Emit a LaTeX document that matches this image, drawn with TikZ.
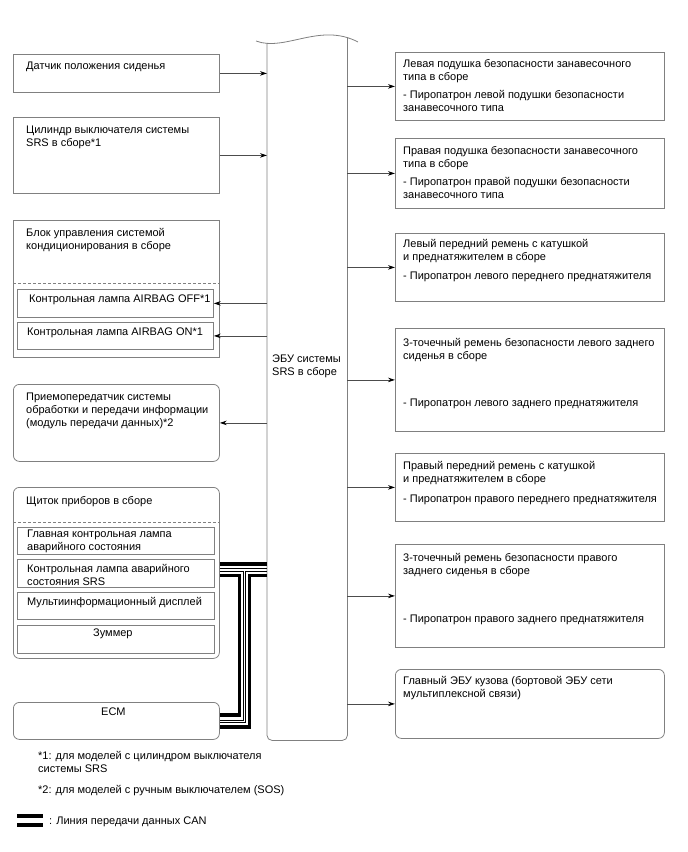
\documentclass[tikz,border=0pt]{standalone}
\usepackage{fontspec}
\setmainfont{Liberation Sans}
\usetikzlibrary{arrows.meta}
\definecolor{boxgray}{gray}{0.5}
\definecolor{wiregray}{gray}{0.3}

\begin{document}
\begin{tikzpicture}[x=1pt, y=-1pt,
  box/.style={draw=boxgray, line width=0.8pt, anchor=north west, inner sep=0pt},
  rbox/.style={box, rounded corners=6pt},
  txt/.style={anchor=base west, inner sep=0pt, align=left, font=\fontsize{11}{13}\selectfont},
  wire/.style={draw=wiregray, line width=0.8pt, -{Stealth[length=7pt, width=4.5pt, black]}},
  sep/.style={draw=boxgray, line width=0.8pt, dash pattern=on 3pt off 2pt},
  can/.style={line width=3.5pt},
  canthin/.style={line width=0.8pt}]
  \useasboundingbox (0,0) rectangle (688,852);

  % left column
  \node[box, minimum width=206pt, minimum height=38pt] (seat) at (13,54) {};
  \node[box, minimum width=206pt, minimum height=76pt] (cyl) at (13,117) {};
  \node[box, minimum width=206pt, minimum height=137pt] (climate) at (13,220) {};
  \node[box, minimum width=196pt, minimum height=28pt] (off) at (17,289) {};
  \node[box, minimum width=196pt, minimum height=27pt] (on) at (17,322) {};
  \node[rbox, minimum width=206pt, minimum height=77pt] (dcm) at (13,384) {};
  \node[rbox, minimum width=206pt, minimum height=171pt] (meter) at (13,487) {};
  \node[box, minimum width=197pt, minimum height=27pt] (mil) at (17,527) {};
  \node[box, minimum width=197pt, minimum height=28pt] (srs) at (17,559) {};
  \node[box, minimum width=197pt, minimum height=27pt] (mid) at (17,592) {};
  \node[box, minimum width=197pt, minimum height=28pt] (buzz) at (17,625) {};
  \node[rbox, minimum width=206pt, minimum height=37pt] (ecm) at (13,702) {};
  \draw[sep] (climate.west |- 0,283) -- (climate.east |- 0,283);
  \draw[sep] (meter.west |- 0,522) -- (meter.east |- 0,522);

  \node[txt] at ([shift={(13,15)}]seat.north west) {Датчик положения сиденья};
  \node[txt] at ([shift={(13,29)}]cyl.north west) {Цилиндр выключателя системы\\SRS в сборе*1};
  \node[txt] at ([shift={(13,29)}]climate.north west) {Блок управления системой\\кондиционирования в сборе};
  \node[txt] at ([shift={(12,13)}]off.north west) {Контрольная лампа AIRBAG OFF*1};
  \node[txt] at ([shift={(10,13)}]on.north west) {Контрольная лампа AIRBAG ON*1};
  \node[txt] at ([shift={(13,42)}]dcm.north west) {Приемопередатчик системы\\обработки и передачи информации\\(модуль передачи данных)*2};
  \node[txt] at ([shift={(13,17)}]meter.north west) {Щиток приборов в сборе};
  \node[txt] at ([shift={(10,23)}]mil.north west) {Главная контрольная лампа\\аварийного состояния};
  \node[txt] at ([shift={(10,26)}]srs.north west) {Контрольная лампа аварийного\\состояния SRS};
  \node[txt] at ([shift={(10,13)}]mid.north west) {Мультиинформационный дисплей};
  \node[txt, anchor=base] at ([shift={(-3,11)}]buzz.north) {Зуммер};
  \node[txt, anchor=base] at ([shift={(-3,13)}]ecm.north) {ECM};

  % ECU
  \node[inner sep=0pt, anchor=north west, minimum width=80pt, minimum height=696.7pt] (ecu) at (267,43.3) {};
  \coordinate (wl) at (256,41);
  \coordinate (wr) at (358,42);
  \draw[boxgray, line width=0.8pt] (wl) .. controls (285,52) and (320,22) .. (wr);
  \draw[boxgray, line width=0.8pt, rounded corners=5pt] (ecu.north west) -- (ecu.south west) -- (ecu.south east) -- ([yshift=6pt]ecu.north east);
  \node[txt] at (272,375) {ЭБУ системы\\SRS в сборе};

  % right column
  \node[box, minimum width=269pt, minimum height=68pt] (curtL) at (395,52) {};
  \node[box, minimum width=269pt, minimum height=70pt] (curtR) at (395,138) {};
  \node[box, minimum width=269pt, minimum height=68pt] (beltFL) at (395,233) {};
  \node[box, minimum width=269pt, minimum height=103pt] (beltRL) at (395,328) {};
  \node[box, minimum width=269pt, minimum height=68pt] (beltFR) at (395,453) {};
  \node[box, minimum width=269pt, minimum height=103pt] (beltRR) at (395,544) {};
  \node[rbox, minimum width=269pt, minimum height=69pt] (body) at (395,669) {};

  \node[txt] at ([shift={(8,59)}]curtL.north west) {Левая подушка безопасности занавесочного\\типа в сборе\\[5pt]- Пиропатрон левой подушки безопасности\\занавесочного типа};
  \node[txt] at ([shift={(8,60)}]curtR.north west) {Правая подушка безопасности занавесочного\\типа в сборе\\[5pt]- Пиропатрон правой подушки безопасности\\занавесочного типа};
  \node[txt] at ([shift={(8,46)}]beltFL.north west) {Левый передний ремень с катушкой\\и преднатяжителем в сборе\\[6pt]- Пиропатрон левого переднего преднатяжителя};
  \node[txt] at ([shift={(8,78)}]beltRL.north west) {3-точечный ремень безопасности левого заднего\\сиденья в сборе\\[34pt]- Пиропатрон левого заднего преднатяжителя};
  \node[txt] at ([shift={(8,49)}]beltFR.north west) {Правый передний ремень с катушкой\\и преднатяжителем в сборе\\[7pt]- Пиропатрон правого переднего преднатяжителя};
  \node[txt] at ([shift={(8,78)}]beltRR.north west) {3-точечный ремень безопасности правого\\заднего сиденья в сборе\\[35pt]- Пиропатрон правого заднего преднатяжителя};
  \node[txt] at ([shift={(8,28)}]body.north west) {Главный ЭБУ кузова (бортовой ЭБУ сети\\мультиплексной связи)};

  % connectors
  \draw[wire] (seat.east) -- (seat.east -| ecu.west);
  \draw[wire] (cyl.east) -- (cyl.east -| ecu.west);
  \draw[wire] (off.east -| ecu.west) -- (off.east);
  \draw[wire] (on.east -| ecu.west) -- (on.east);
  \draw[wire] (dcm.east -| ecu.west) -- (dcm.east);
  \draw[wire] (curtL.west -| ecu.east) -- (curtL.west);
  \draw[wire] (curtR.west -| ecu.east) -- (curtR.west);
  \draw[wire] (beltFL.west -| ecu.east) -- (beltFL.west);
  \draw[wire] (beltRL.west -| ecu.east) -- (beltRL.west);
  \draw[wire] (beltFR.west -| ecu.east) -- (beltFR.west);
  \draw[wire] (beltRR.west -| ecu.east) -- (beltRR.west);
  \draw[wire] (body.west -| ecu.east) -- (body.west);

  % CAN
  \draw[can] (meter.east |- 0,564) -- (ecu.west |- 0,564);
  \draw[canthin] (meter.east |- 0,568.5) -- (ecu.west |- 0,568.5);
  \draw[can] (meter.east |- 0,575.5) -| (239.5,715) -- (ecm.east |- 0,715);
  \draw[canthin] (meter.east |- 0,571) -| (243,720) -- (ecm.east |- 0,720);
  \draw[canthin] (ecu.west |- 0,571) -| (245,722.5) -- (ecm.east |- 0,722.5);
  \draw[can] (ecu.west |- 0,575.5) -| (249.5,727) -- (ecm.east |- 0,727);

  % notes
  \node[txt] at (38,772) {*1: для моделей с цилиндром выключателя\\системы SRS};
  \node[txt] at (38,793) {*2: для моделей с ручным выключателем (SOS)};
  \draw[can] (17,816) -- (43,816);
  \draw[can] (17,825) -- (43,825);
  \node[txt] at (49,824) {: Линия передачи данных CAN};
\end{tikzpicture}
\end{document}
